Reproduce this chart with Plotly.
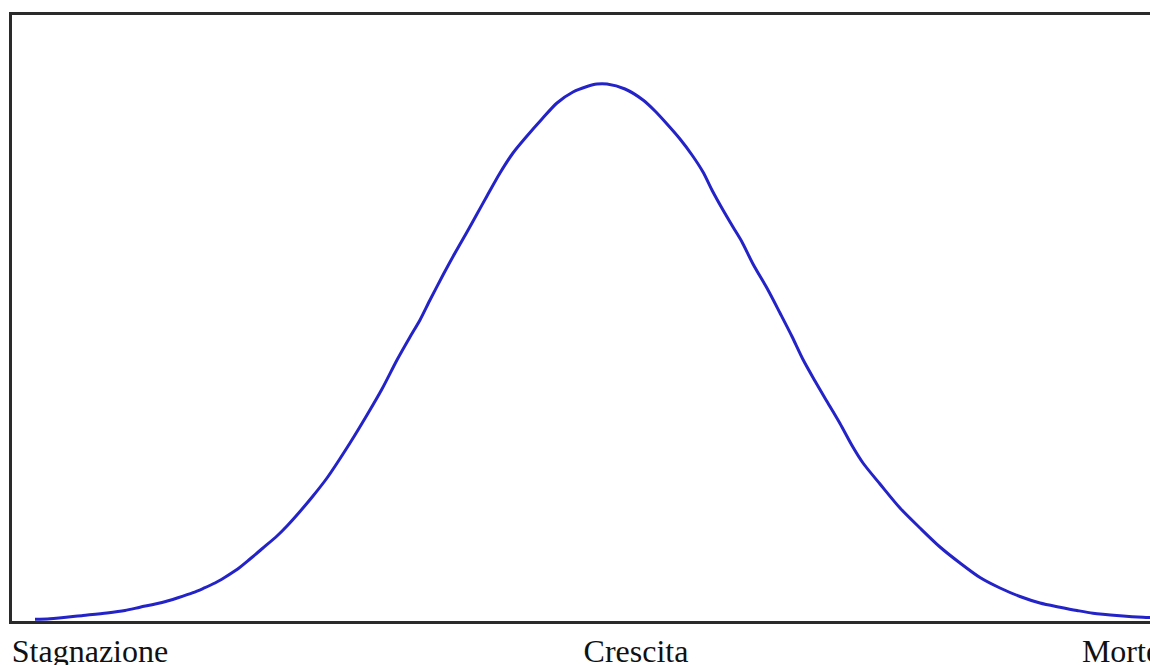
import plotly.graph_objects as go

# Curve (horizontal position, height above baseline)
x_pos = [35, 50, 83, 107, 125, 140, 162, 178, 193, 203, 215, 225, 237, 250, 263,
         277, 287, 300, 313, 327, 350, 367, 382, 397, 410, 420, 430, 443, 455, 467,
         477, 487, 500, 513, 527, 542, 557, 573, 587, 597, 607, 625, 643, 655, 667,
         680, 692, 703, 713, 723, 733, 742, 753, 768, 780, 792, 803, 815, 827, 840,
         852, 863, 880, 900, 920, 940, 960, 980, 1000, 1020, 1040, 1060, 1077, 1093,
         1120, 1143, 1160]
height = [1.7, 2.2, 5.5, 8, 10.5, 13.8, 18.5, 23.3, 28.3, 32.5, 38, 43.8, 51.5, 62, 73,
          85, 95, 109.5, 125, 143, 178, 206, 232, 261, 284, 301, 321, 346, 368, 389,
          407, 425, 448, 468, 485, 502, 518, 529, 534.5, 537, 537, 532, 521, 510, 497,
          482, 466, 449, 429, 411, 394, 379, 357, 331, 308, 284.5, 261.5, 240, 219.5, 197.5,
          175.5, 158, 137, 113, 93, 74, 58, 43.5, 33, 24.5, 18, 13.8, 10.5, 7.8,
          5.3, 3.7, 3]

# Stage labels along the horizontal axis
stage_labels = ["Stagnazione", "Crescita", "Morte"]
stage_pos = [90, 636, 1121]

fig = go.Figure()
fig.add_trace(go.Scatter(
    x=x_pos, y=height, mode="lines",
    line=dict(color="#2323c8", width=3, shape="spline", smoothing=0.8),
    hoverinfo="skip", showlegend=False,
))

frame = "#2a2a2a"
fig.update_layout(
    width=1150, height=665,
    margin=dict(l=12, r=0, t=15, b=44, autoexpand=False),
    paper_bgcolor="white", plot_bgcolor="white",
    xaxis=dict(range=[12, 1150], showgrid=False, zeroline=False, automargin=False,
               showline=True, linecolor=frame, linewidth=3, mirror=True,
               tickmode="array", tickvals=stage_pos, ticktext=stage_labels,
               ticks="", ticklabeloverflow="allow", ticklabelstandoff=0,
               tickfont=dict(family="Liberation Serif", size=32, color="#111111")),
    yaxis=dict(range=[0, 606], showgrid=False, zeroline=False, automargin=False,
               showline=True, linecolor=frame, linewidth=3, mirror=False,
               showticklabels=False, ticks=""),
)

fig.write_html(
    "out.html",
    config={"displayModeBar": False},
    post_script="document.body.style.margin='0';document.body.style.overflow='hidden';",
)
